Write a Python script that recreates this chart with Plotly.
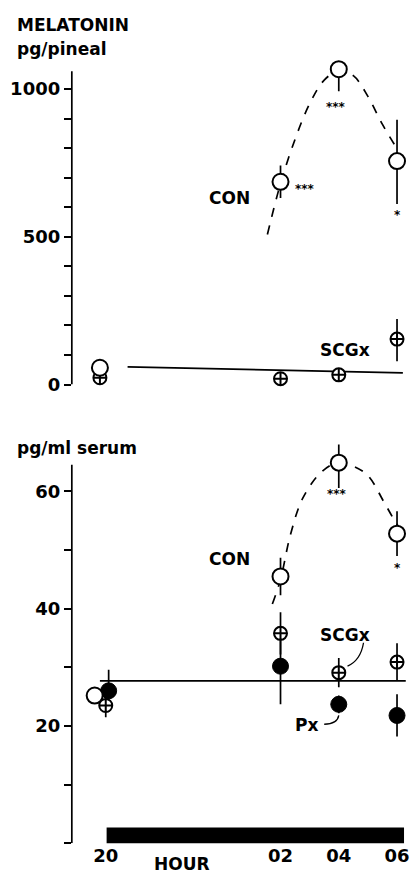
import plotly.graph_objects as go

# ---------------- data ----------------
# x axis: hours after 20:00 (20 -> 0, 02 -> 6, 04 -> 8, 06 -> 10)
hour_ticks = [0, 6, 8, 10]
hour_labels = ["20", "02", "04", "06"]

# --- pineal (pg/pineal) ---
pin_con_x = [-0.2, 6, 8, 10]
pin_con_y = [57, 686, 1067, 756]
pin_con_up = [0, 55, 0, 140]
pin_con_dn = [0, 55, 75, 145]

pin_scg_x = [-0.2, 6, 8, 10]
pin_scg_y = [23, 20, 33, 154]
pin_scg_up = [0, 0, 0, 68]
pin_scg_dn = [0, 0, 0, 75]

# dashed CON trend
pin_con_curve_x = [5.55, 6.0, 6.5, 7.0, 7.5, 8.0, 8.5, 9.0, 9.5, 10.05]
pin_con_curve_y = [508, 680, 830, 950, 1030, 1062, 1045, 975, 880, 790]
# solid SCGx line
pin_scg_line_x = [0.75, 10.2]
pin_scg_line_y = [60, 40]

pin_ticks = [0, 100, 200, 300, 400, 500, 600, 700, 800, 900, 1000]
pin_tick_labels = ["0", "", "", "", "", "500", "", "", "", "", "1000"]
pin_axis_top = 1060

# --- serum (pg/ml) ---
ser_con_x = [-0.38, 6, 8, 10]
ser_con_y = [25.2, 45.5, 64.9, 52.8]
ser_con_err = [0, 3.2, 4.3, 3.8]

ser_scg_x = [0.0, 6, 8, 10]
ser_scg_y = [23.5, 35.8, 29.1, 30.9]
ser_scg_err = [2.0, 3.6, 2.5, 3.2]

ser_px_x = [0.1, 6, 8, 10]
ser_px_y = [26.0, 30.2, 23.7, 21.8]
ser_px_err = [3.6, 6.5, 1.5, 3.6]

ser_con_curve_x = [5.72, 6.0, 6.34, 6.76, 7.38, 8.0, 8.5, 9.0, 9.55, 9.86, 10.05]
ser_con_curve_y = [40.8, 45.0, 52.6, 58.8, 63.2, 65.0, 64.3, 62.7, 58.2, 55.5, 54.0]
ser_line_x = [-0.2, 10.3]
ser_line_y = [27.7, 27.7]

ser_ticks = [0, 10, 20, 30, 40, 50, 60]
ser_tick_labels = ["", "", "20", "", "40", "", "60"]
ser_axis_top = 64.55

dark_start, dark_end = 0.03, 10.24

# ---------------- figure ----------------
FONT = "DejaVu Sans"
W, H = 410, 884
px_per_h = 29.2
x0_px = 106
xr = [(72 - x0_px) / px_per_h, (W - x0_px) / px_per_h]

# vertical pixel geometry
pin_zero_px, pin_scale = 389, 0.299       # px per unit
ser_zero_px, ser_scale = 853, 5.933
pin_range = [0, 1120]
ser_range = [0, 68]

def dom(zero_px, scale, rng):
    top_px = zero_px - rng[1] * scale
    return [1 - zero_px / H, 1 - top_px / H]

fig = go.Figure()
LW = 1.7

def err(arr, arrm=None):
    d = dict(type="data", array=arr, visible=True, color="black",
             thickness=LW, width=0)
    if arrm is not None:
        d["symmetric"] = False
        d["arrayminus"] = arrm
    return d

open_marker = dict(symbol="circle", size=16, color="white",
                   line=dict(color="black", width=2))
cross_marker = dict(symbol="circle-cross", size=13, color="white",
                    line=dict(color="black", width=2))
fill_marker = dict(symbol="circle", size=16, color="black",
                   line=dict(color="black", width=1))

# top panel
fig.add_trace(go.Scatter(x=pin_con_curve_x, y=pin_con_curve_y, mode="lines",
                         line=dict(color="black", width=LW, dash="dash", shape="spline"),
                         xaxis="x", yaxis="y", cliponaxis=False))
fig.add_trace(go.Scatter(x=pin_scg_line_x, y=pin_scg_line_y, mode="lines",
                         line=dict(color="black", width=LW),
                         xaxis="x", yaxis="y", cliponaxis=False))
fig.add_trace(go.Scatter(x=pin_scg_x, y=pin_scg_y, mode="markers",
                         marker=cross_marker, error_y=err(pin_scg_up, pin_scg_dn),
                         xaxis="x", yaxis="y", cliponaxis=False))
fig.add_trace(go.Scatter(x=pin_con_x, y=pin_con_y, mode="markers",
                         marker=open_marker, error_y=err(pin_con_up, pin_con_dn),
                         xaxis="x", yaxis="y", cliponaxis=False))

# bottom panel
fig.add_trace(go.Scatter(x=ser_con_curve_x, y=ser_con_curve_y, mode="lines",
                         line=dict(color="black", width=LW, dash="dash", shape="spline"),
                         xaxis="x2", yaxis="y2", cliponaxis=False))
fig.add_trace(go.Scatter(x=ser_line_x, y=ser_line_y, mode="lines",
                         line=dict(color="black", width=LW),
                         xaxis="x2", yaxis="y2", cliponaxis=False))
fig.add_trace(go.Scatter(x=ser_px_x, y=ser_px_y, mode="markers",
                         marker=fill_marker, error_y=err(ser_px_err),
                         xaxis="x2", yaxis="y2", cliponaxis=False))
fig.add_trace(go.Scatter(x=ser_scg_x, y=ser_scg_y, mode="markers",
                         marker=cross_marker, error_y=err(ser_scg_err),
                         xaxis="x2", yaxis="y2", cliponaxis=False))
fig.add_trace(go.Scatter(x=ser_con_x, y=ser_con_y, mode="markers",
                         marker=open_marker, error_y=err(ser_con_err),
                         xaxis="x2", yaxis="y2", cliponaxis=False))

# y axis lines (drawn to the reference's extent)
fig.add_shape(type="line", xref="x domain", yref="y", x0=0, x1=0, y0=0, y1=pin_axis_top,
              line=dict(color="black", width=LW))
fig.add_shape(type="line", xref="x2 domain", yref="y2", x0=0, x1=0, y0=0, y1=ser_axis_top,
              line=dict(color="black", width=LW))

# dark-period bar
fig.add_shape(type="rect", xref="x2", yref="y2", x0=dark_start, x1=dark_end,
              y0=-0.3, y1=2.7, fillcolor="black", line=dict(width=0))

# arrows (curved hooks)
fig.add_shape(type="path", xref="x2", yref="y2",
              path="M 8.85,34.2 Q 8.75,31.2 8.3,30.2",
              line=dict(color="black", width=1.3))
fig.add_shape(type="path", xref="x2", yref="y2",
              path="M 7.5,20.3 Q 7.95,20.3 8.0,21.8",
              line=dict(color="black", width=1.3))

tick_font = dict(family=FONT, size=18, color="black", weight="bold")
lab_font = dict(family=FONT, size=17, color="black", weight="bold")
star_font = dict(family=FONT, size=12, color="black", weight="bold")

def ann(x, y, text, xref, yref, font, **kw):
    fig.add_annotation(x=x, y=y, text=text, xref=xref, yref=yref, showarrow=False,
                       font=font, **kw)

ann(4.25, 632, "CON", "x", "y", lab_font)
ann(6.85, 660, "***", "x", "y", star_font)
ann(7.92, 940, "***", "x", "y", star_font)
ann(10.0, 575, "*", "x", "y", star_font)
ann(8.2, 118, "SCGx", "x", "y", lab_font)

ann(4.25, 48.5, "CON", "x2", "y2", lab_font)
ann(7.95, 59.6, "***", "x2", "y2", star_font)
ann(10.0, 47.0, "*", "x2", "y2", star_font)
ann(8.2, 35.6, "SCGx", "x2", "y2", lab_font)
ann(6.9, 20.2, "Px", "x2", "y2", lab_font)

# titles
ann(15 / W, 1 - 25 / H, "MELATONIN", "paper", "paper", lab_font, xanchor="left", yanchor="middle")
ann(15 / W, 1 - 50 / H, "pg/pineal", "paper", "paper", lab_font, xanchor="left", yanchor="middle")
ann(15 / W, 1 - 453 / H, "pg/ml serum", "paper", "paper", lab_font, xanchor="left", yanchor="middle")
ann(182 / W, 1 - 874 / H, "HOUR", "paper", "paper", lab_font, xanchor="center", yanchor="middle")

yax_common = dict(showline=False, ticks="outside",
                  ticklen=7, tickwidth=LW, tickcolor="black", showgrid=False,
                  zeroline=False, tickfont=tick_font, tickmode="array")

fig.update_layout(
    width=W, height=H, margin=dict(l=0, r=0, t=0, b=0),
    paper_bgcolor="white", plot_bgcolor="white", showlegend=False,
    xaxis=dict(domain=[72 / W, 1], range=xr, visible=False, anchor="y"),
    yaxis=dict(domain=dom(pin_zero_px, pin_scale, pin_range), range=pin_range, anchor="x",
               tickvals=pin_ticks, ticktext=pin_tick_labels, **yax_common),
    xaxis2=dict(domain=[72 / W, 1], range=xr, anchor="y2", showline=False,
                showgrid=False, zeroline=False, ticks="", tickmode="array",
                tickvals=hour_ticks, ticktext=hour_labels, tickfont=tick_font,
                ticklabeloverflow="allow"),
    yaxis2=dict(domain=dom(ser_zero_px, ser_scale, ser_range), range=ser_range, anchor="x2",
                tickvals=ser_ticks, ticktext=ser_tick_labels, **yax_common),
)

post = ("document.documentElement.style.margin='0';"
        "document.body.style.margin='0';"
        "document.documentElement.style.overflow='hidden';"
        "document.body.style.overflow='hidden';")

fig.write_html("out.html", config={"displayModeBar": False}, post_script=post)
